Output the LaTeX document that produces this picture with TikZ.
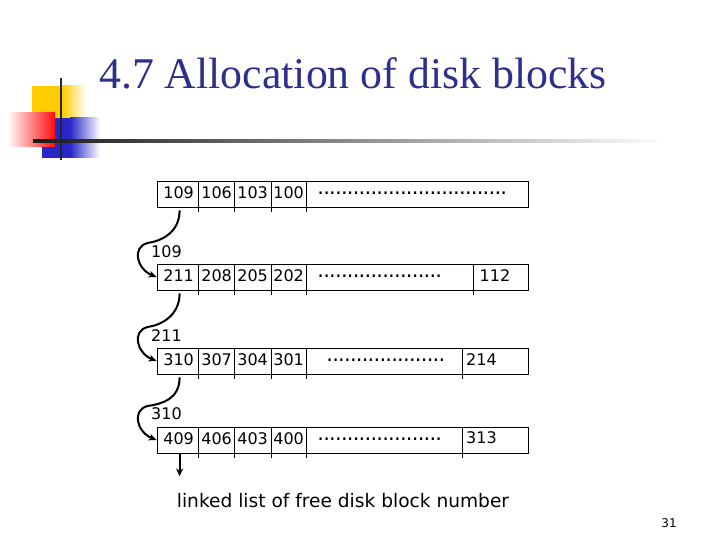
\documentclass[tikz,border=0pt]{standalone}
\usepackage{fontspec}
\setmainfont{DejaVu Sans}
\newfontfamily\titlefont{Liberation Serif}
\usetikzlibrary{arrows.meta,calc}
\definecolor{titleblue}{RGB}{46,46,140}
\definecolor{deco yellow}{RGB}{255,204,0}
\definecolor{deco blue}{RGB}{40,40,200}
\newcommand{\dotrow}[1]{{\fontsize{21}{21}\selectfont\hbox to #1{\leaders\hbox to 5.9pt{\hss.\hss}\hfill}}}
\tikzset{>=Stealth,every node/.style={font=\fontsize{16}{18}\selectfont,inner sep=0pt},
  rowbox/.style={draw,line width=.8pt,minimum width=371pt,minimum height=26pt},
  cell/.style={anchor=center},
  link/.style={line width=2pt,->,>={Stealth[length=8pt,width=7pt]}},
  tick/.style={line width=.8pt}}
\begin{document}
\begin{tikzpicture}[x=1pt,y=-1pt]
\useasboundingbox (0,0) rectangle (720,540);
% decoration
\shade[left color=deco yellow,right color=white] (62,86) rectangle (86,118);
\fill[deco yellow] (32,86) rectangle (62.5,118);
\shade[left color=deco blue,right color=white] (70,118) rectangle (100,158);
\fill[deco blue] (42,118) rectangle (70.5,158);
\shade[left color=red!5,right color=red!95] (10,113) rectangle (55,147);
\draw[line width=2.5pt,black!85] (61,78)--(61,160);
\shade[left color=black!90,right color=white] (33,139.5) rectangle (668,142.5);
\node[font=\titlefont\fontsize{43.8}{46}\selectfont,text=titleblue,anchor=west] (title) at (99,73) {4.7 Allocation of disk blocks};
% rows
\foreach \i/\y in {1/194,2/277,3/361,4/440}{\node[rowbox] (r\i) at (342.5,\y) {};
  \foreach \x in {198,234,271,306}{\draw[tick] (\x,\y-13)--(\x,\y+18);}}
\foreach \i/\a/\b/\c/\d in {1/109/106/103/100,2/211/208/205/202,3/310/307/304/301,4/409/406/403/400}{
  \node[cell] (c\i a) at ($(r\i.west)+(22,-1)$) {\a};
  \node[cell] (c\i b) at ($(r\i.west)+(60,-1)$) {\b};
  \node[cell] (c\i c) at ($(r\i.west)+(96,-1)$) {\c};
  \node[cell] (c\i d) at ($(r\i.west)+(132,-1)$) {\d};}
\node[anchor=west] (d1) at ($(r1.west)+(161,-1)$) {\dotrow{189pt}};
\node[anchor=west] (d2) at ($(r2.west)+(161,-1)$) {\dotrow{124pt}};
\node[anchor=west] (d3) at ($(r3.west)+(170,-1)$) {\dotrow{119pt}};
\node[anchor=west] (d4) at ($(r4.west)+(161,-1)$) {\dotrow{124pt}};
\draw[tick] (473,264)--(473,295);
\foreach \y in {348,427}{\draw[tick] (462,\y)--(462,\y+31);}
\node[cell] (e2) at (495,276) {112};
\node[anchor=west] (e3) at (466,360) {214};
\node[anchor=west] (e4) at (466,438) {313};
% pointers to next block
\node[anchor=west] (p2) at (151,252) {109};
\node[anchor=west] (p3) at (151,336) {211};
\node[anchor=west] (p4) at (151,414) {310};
\foreach \a/\b in {1/2,2/3,3/4}{
  \coordinate (s) at ($(r\a.south west)+(23,3)$);
  \coordinate (m) at ($(r\b.west)+(-9,-34)$);
  \draw[link] (s) .. controls ($(s)+(0,22)$) and ($(m)+(14,-2)$) .. (m)
    .. controls ($(m)+(-16,4)$) and ($(r\b.west)+(-20,-8)$) .. (r\b.west);}
\coordinate (down) at ($(r4.south west)+(23,23)$);
\draw[link] ($(r4.south west)+(23,0)$) -- (down);
\node[font=\fontsize{18.6}{20}\selectfont] (note) at (343,501) {linked list of free disk block number};
\node[font=\fontsize{12}{14}\selectfont] (page) at (669,523) {31};
\end{tikzpicture}
\end{document}
